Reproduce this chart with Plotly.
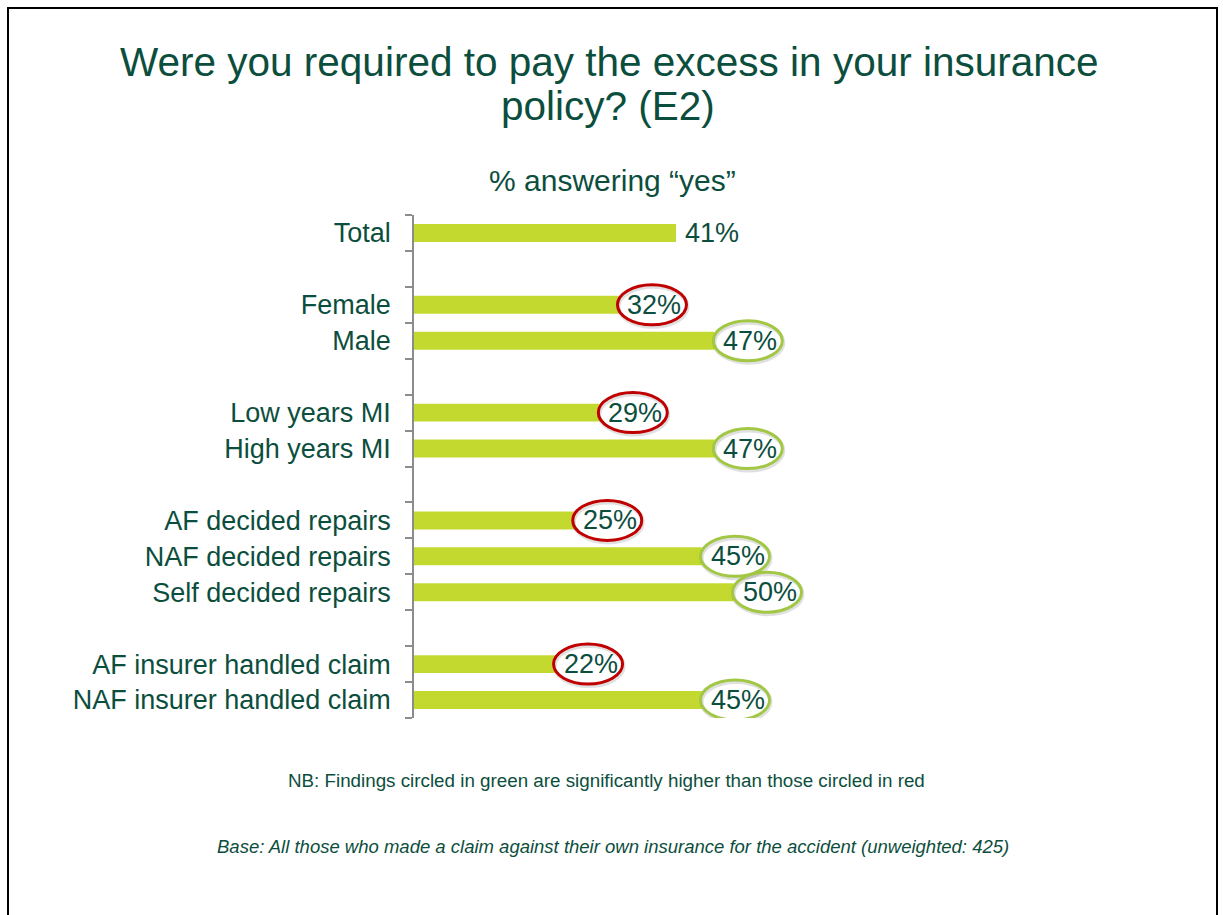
import plotly.graph_objects as go

# Rows of the chart, top to bottom; empty strings are spacer rows between groups
categories = [
    "Total", "",
    "Female", "Male", "",
    "Low years MI", "High years MI", "",
    "AF decided repairs", "NAF decided repairs", "Self decided repairs", "",
    "AF insurer handled claim", "NAF insurer handled claim",
]
values = [41, None, 32, 47, None, 29, 47, None, 25, 45, 50, None, 22, 45]
# Significance marker per row: "low" = circled red, "high" = circled green
significance = [None, None, "low", "high", None, "low", "high", None,
                "low", "high", "high", None, "low", "high"]

TITLE_LINES = ["Were you required to pay the excess in your insurance", "policy? (E2)"]
SUBTITLE = "% answering \u201cyes\u201d"
NOTE = "NB: Findings circled in green are significantly higher than those circled in red"
BASE = "Base: All those who made a claim against their own insurance for the accident (unweighted: 425)"

W, H = 1223, 915
M_L, M_R, M_T, M_B = 414, 170, 215, 197
PLOT_W = W - M_L - M_R
PLOT_H = H - M_T - M_B

TEXT = "#0C4E3D"
BAR = "#C3D930"
RED = "#C00000"
GREEN = "#A2C744"
FONT = "Arial, Liberation Sans, sans-serif"


def px_x(px):
    return (px - M_L) / PLOT_W


def px_y(py):
    return (H - M_B - py) / PLOT_H


rows = list(range(len(categories)))
bar_rows = [r for r in rows if values[r] is not None]
bar_vals = [values[r] for r in bar_rows]

fig = go.Figure()
fig.add_trace(go.Bar(
    x=bar_vals, y=bar_rows, orientation="h", width=0.5,
    marker=dict(color=BAR, line=dict(width=0)),
    hoverinfo="skip", showlegend=False,
))

annotations = []
shapes = []

for r in bar_rows:
    v = values[r]
    annotations.append(dict(
        x=v, y=r, xref="x", yref="y", text=f"{v}%", showarrow=False,
        xanchor="center", yanchor="middle", xshift=36,
        font=dict(family=FONT, size=27, color=TEXT),
    ))
    sig = significance[r]
    if sig:
        col = RED if sig == "low" else GREEN
        # soft drop shadow beneath the ring
        shapes.append(dict(
            type="circle", xref="x", yref="y", xsizemode="pixel", ysizemode="pixel",
            xanchor=v, yanchor=r, x0=0, x1=69, y0=-22, y1=18,
            line=dict(color="rgba(0,0,0,0.12)", width=4), layer="above",
        ))
        shapes.append(dict(
            type="circle", xref="x", yref="y", xsizemode="pixel", ysizemode="pixel",
            xanchor=v, yanchor=r, x0=-1, x1=68, y0=-20, y1=20,
            line=dict(color=col, width=3), layer="above",
        ))

# Title, subtitle and footnotes
annotations.append(dict(
    x=px_x(609), y=px_y(62), xref="paper", yref="paper", text=TITLE_LINES[0],
    showarrow=False, xanchor="center", yanchor="middle",
    font=dict(family=FONT, size=40.5, color=TEXT),
))
annotations.append(dict(
    x=px_x(608), y=px_y(106), xref="paper", yref="paper", text=TITLE_LINES[1],
    showarrow=False, xanchor="center", yanchor="middle",
    font=dict(family=FONT, size=40.5, color=TEXT),
))
annotations.append(dict(
    x=px_x(612), y=px_y(180), xref="paper", yref="paper", text=SUBTITLE,
    showarrow=False, xanchor="center", yanchor="middle",
    font=dict(family=FONT, size=30, color=TEXT),
))
annotations.append(dict(
    x=px_x(606), y=px_y(780), xref="paper", yref="paper", text=NOTE,
    showarrow=False, xanchor="center", yanchor="middle",
    font=dict(family=FONT, size=18.8, color=TEXT),
))
annotations.append(dict(
    x=px_x(613), y=px_y(846), xref="paper", yref="paper", text=f"<i>{BASE}</i>",
    showarrow=False, xanchor="center", yanchor="middle",
    font=dict(family=FONT, size=18.5, color=TEXT),
))

# Slide frame
shapes.append(dict(
    type="rect", xref="paper", yref="paper",
    x0=px_x(8), x1=px_x(1217), y0=px_y(8), y1=px_y(960),
    line=dict(color="#000000", width=2), fillcolor="rgba(0,0,0,0)", layer="below",
))

fig.update_layout(
    width=W, height=H,
    margin=dict(l=M_L, r=M_R, t=M_T, b=M_B, pad=0),
    paper_bgcolor="white", plot_bgcolor="white",
    annotations=annotations, shapes=shapes,
    bargap=0.5,
    xaxis=dict(range=[0, 100], visible=False, fixedrange=True),
    yaxis=dict(
        range=[len(categories) - 0.5, -0.5],
        tickmode="array", tickvals=bar_rows, ticktext=[categories[r] for r in bar_rows],
        ticks="", showgrid=False, zeroline=False,
        showline=True, linecolor="#8C8C8C", linewidth=1.5,
        tickfont=dict(family=FONT, size=27, color=TEXT),
        ticklabelstandoff=16,
        minor=dict(tick0=0.5, dtick=1, ticks="outside", ticklen=7,
                   tickcolor="#8C8C8C", tickwidth=1.5, showgrid=False),
        fixedrange=True,
    ),
)

fig.write_html("out.html")
